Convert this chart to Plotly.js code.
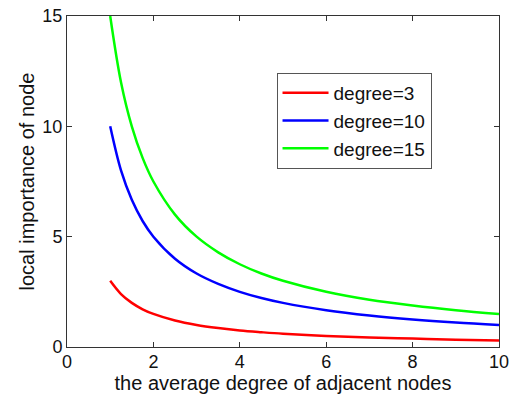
<!DOCTYPE html>
<html>
<head>
<meta charset="utf-8">
<script src="https://cdn.plot.ly/plotly-3.0.1.min.js"></script>
<style>html,body{margin:0;padding:0;background:#fff;}#chart{width:511px;height:394px;}</style>
</head>
<body>
<div id="chart"></div>
<script>
const avgDegree = [1, 1.25, 1.5, 1.75, 2, 2.5, 3, 3.5, 4, 4.5, 5, 6, 7, 8, 9, 10];
const degree3  = [3, 2.4, 2.0, 1.71, 1.5, 1.2, 1.0, 0.86, 0.75, 0.67, 0.6, 0.5, 0.43, 0.38, 0.33, 0.3];
const degree10 = [10, 8.0, 6.67, 5.71, 5.0, 4.0, 3.33, 2.86, 2.5, 2.22, 2.0, 1.67, 1.43, 1.25, 1.11, 1.0];
const degree15 = [15, 12.0, 10.0, 8.57, 7.5, 6.0, 5.0, 4.29, 3.75, 3.33, 3.0, 2.5, 2.14, 1.88, 1.67, 1.5];
const seriesNames = ['degree=3', 'degree=10', 'degree=15'];
const seriesColors = ['#ff0000', '#0000ff', '#00ff00'];
const xTicks = [0, 2, 4, 6, 8, 10];
const yTicks = [0, 5, 10, 15];

const allSeries = [degree3, degree10, degree15];
const traces = allSeries.map((ys, i) => ({
  x: avgDegree, y: ys, type: 'scatter', mode: 'lines', name: seriesNames[i],
  line: {color: seriesColors[i], width: 2.5, shape: 'spline'}
}));

const FONT = 'Liberation Sans, Arial, sans-serif';
const axisCommon = {
  showgrid: false, zeroline: false, showline: true, linecolor: '#333', linewidth: 1,
  mirror: 'ticks', ticks: 'inside', ticklen: 5, tickcolor: '#333',
  tickfont: {family: FONT, size: 18, color: '#111'}
};

const layout = {
  width: 511, height: 394,
  margin: {l: 67, r: 12, t: 16, b: 47},
  paper_bgcolor: '#fff', plot_bgcolor: '#fff',
  showlegend: true,
  legend: {
    x: 0.485, y: 0.828, xanchor: 'left', yanchor: 'top',
    bordercolor: '#555', borderwidth: 1, bgcolor: '#fff',
    font: {family: FONT, size: 19, color: '#111'},
    tracegroupgap: 0, itemwidth: 46
  },
  xaxis: Object.assign({}, axisCommon, {
    range: [0, 10], tickvals: xTicks, ticklabelstandoff: -2,
    title: {text: 'the average degree of adjacent nodes', standoff: 0,
      font: {family: FONT, size: 20, color: '#111'}}
  }),
  yaxis: Object.assign({}, axisCommon, {
    range: [0, 15], tickvals: yTicks,
    title: {text: 'local importance of node', standoff: 2,
      font: {family: FONT, size: 20, color: '#111'}}
  })
};

Plotly.newPlot('chart', traces, layout, {displayModeBar: false, staticPlot: true});
</script>
</body>
</html>
